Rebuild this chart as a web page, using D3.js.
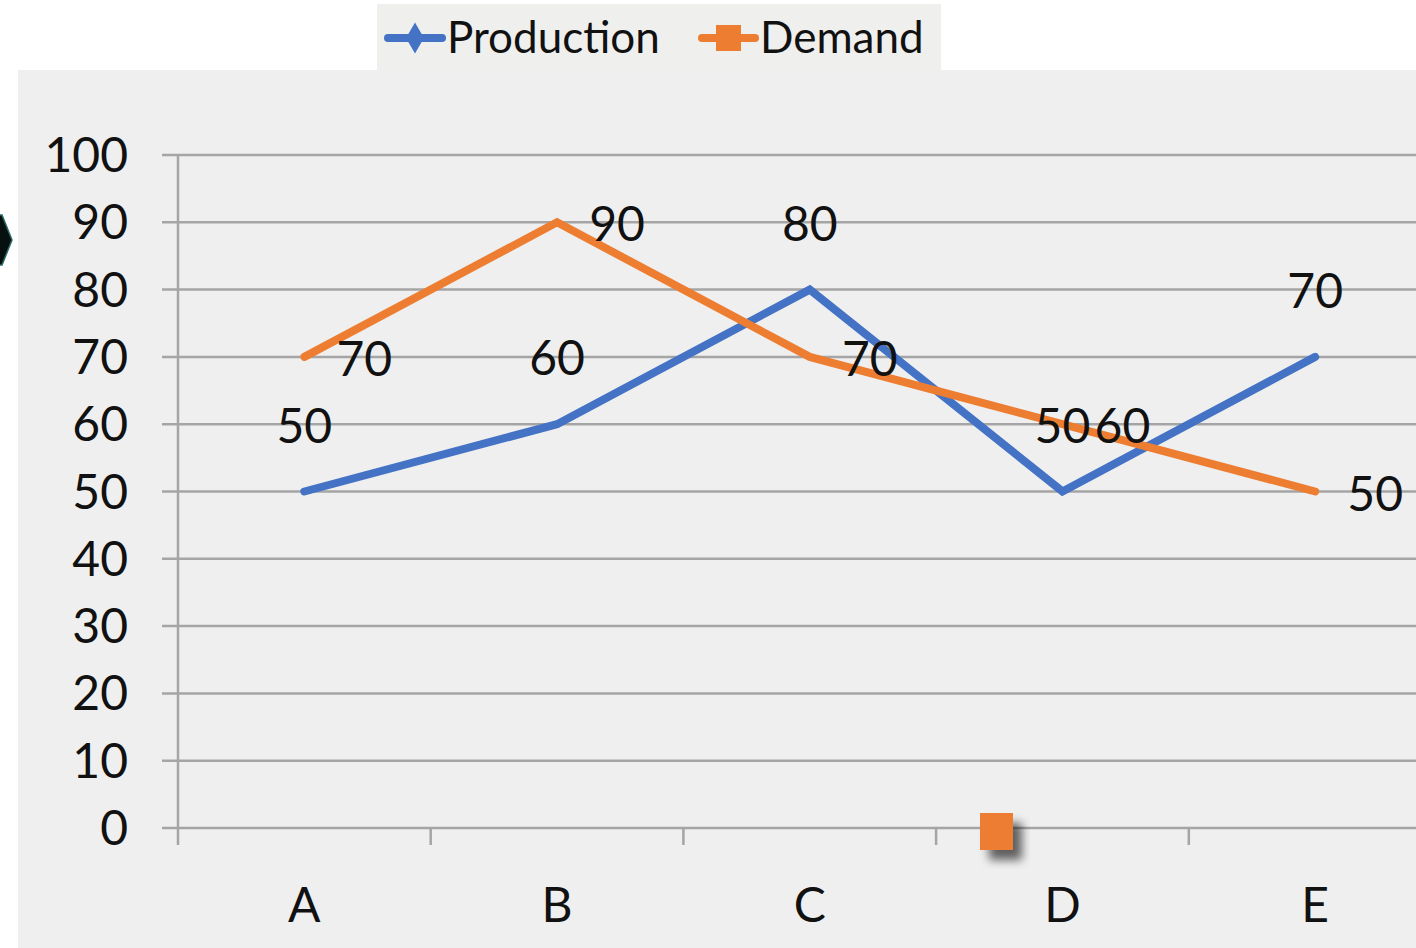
<!DOCTYPE html>
<html>
<head>
<meta charset="utf-8">
<script src="https://cdn.jsdelivr.net/npm/d3@7"></script>
<style>
  html, body { margin: 0; padding: 0; background: #ffffff; }
  svg text { font-family: Lato, "Open Sans", sans-serif; fill: #111; }
</style>
</head>
<body>
<div id="chart"></div>
<script>
// Chart data
const categories = ["A", "B", "C", "D", "E"];
const production = [50, 60, 80, 50, 70];
const demand = [70, 90, 70, 60, 50];
const yTicks = [0, 10, 20, 30, 40, 50, 60, 70, 80, 90, 100];

const W = 1416, H = 948;
const blue = "#4472c4", orange = "#ed7d31", grid = "#a5a5a5";

const svg = d3.select("#chart")
    .append("svg")
        .attr("width", W)
        .attr("height", H)
;

// drop shadow for the stray marker
const defs = svg.append("defs");
const f = defs.append("filter").attr("id", "shadow")
    .attr("x", "-50%").attr("y", "-50%").attr("width", "200%").attr("height", "200%");
f.append("feDropShadow")
    .attr("dx", 9).attr("dy", 10).attr("stdDeviation", 5)
    .attr("flood-color", "#000").attr("flood-opacity", 0.6);

// Background panels
svg.append("rect")
    .attr("x", 18).attr("y", 70)
    .attr("width", W - 18).attr("height", H - 70)
    .attr("fill", "#efefef");
svg.append("rect")
    .attr("x", 377).attr("y", 4)
    .attr("width", 564).attr("height", 66)
    .attr("fill", "#efefee");

// Scales
const x = d3.scaleBand()
    .domain(categories)
    .range([178, 1441.5]);
const y = d3.scaleLinear()
    .domain([0, 100])
    .range([828, 155]);

// Gridlines
svg.append("g")
    .attr("class", "gridlines")
    .selectAll("line")
        .data(yTicks)
        .join("line")
            .attr("x1", 162)
            .attr("x2", W)
            .attr("y1", d => y(d))
            .attr("y2", d => y(d))
            .attr("stroke", grid)
            .attr("stroke-width", 2.5)
;

// Y axis line
svg.append("line")
    .attr("x1", 178).attr("x2", 178)
    .attr("y1", y(100)).attr("y2", y(0) + 17)
    .attr("stroke", grid).attr("stroke-width", 2.5);

// X ticks at band boundaries
svg.append("g")
    .selectAll("line")
        .data(categories.slice(1))
        .join("line")
            .attr("x1", d => x(d))
            .attr("x2", d => x(d))
            .attr("y1", y(0))
            .attr("y2", y(0) + 17)
            .attr("stroke", grid)
            .attr("stroke-width", 2.5)
;

// Y tick labels
svg.append("g")
    .selectAll("text")
        .data(yTicks)
        .join("text")
            .attr("x", 128)
            .attr("y", d => y(d) + 17)
            .attr("text-anchor", "end")
            .style("font-size", "48px")
            .text(d => d)
;

// X tick labels
svg.append("g")
    .selectAll("text")
        .data(categories)
        .join("text")
            .attr("x", d => x(d) + x.bandwidth() / 2)
            .attr("y", 922)
            .attr("text-anchor", "middle")
            .style("font-size", "48px")
            .text(d => d)
;

// Lines
const line = d3.line()
    .x((d, i) => x(categories[i]) + x.bandwidth() / 2)
    .y(d => y(d))
;
svg.append("path")
    .attr("d", line(production))
    .attr("fill", "none")
    .attr("stroke", blue)
    .attr("stroke-width", 8)
    .attr("stroke-linecap", "round")
    .attr("stroke-linejoin", "miter");
svg.append("path")
    .attr("d", line(demand))
    .attr("fill", "none")
    .attr("stroke", orange)
    .attr("stroke-width", 8)
    .attr("stroke-linecap", "round")
    .attr("stroke-linejoin", "miter");

// Data labels
svg.append("g")
    .selectAll("text")
        .data(production)
        .join("text")
            .attr("x", (d, i) => x(categories[i]) + x.bandwidth() / 2)
            .attr("y", d => y(d) - 49)
            .attr("text-anchor", "middle")
            .style("font-size", "48px")
            .text(d => d)
;
svg.append("g")
    .selectAll("text")
        .data(demand)
        .join("text")
            .attr("x", (d, i) => x(categories[i]) + x.bandwidth() / 2 + 60)
            .attr("y", d => y(d) + 19)
            .attr("text-anchor", "middle")
            .style("font-size", "48px")
            .text(d => d)
;

// Legend
const lg = svg.append("g").attr("id", "legend");
lg.append("line")
    .attr("x1", 388).attr("x2", 442).attr("y1", 38).attr("y2", 38)
    .attr("stroke", blue).attr("stroke-width", 8).attr("stroke-linecap", "round");
lg.append("path")
    .attr("d", d3.symbol(d3.symbolDiamond, 280)())
    .attr("transform", "translate(415,38)")
    .attr("fill", blue);
lg.append("text")
    .attr("x", 447).attr("y", 53)
    .style("font-size", "44px")
    .text("Production");
lg.append("line")
    .attr("x1", 702).attr("x2", 755).attr("y1", 38).attr("y2", 38)
    .attr("stroke", orange).attr("stroke-width", 8).attr("stroke-linecap", "round");
lg.append("rect")
    .attr("x", 716).attr("y", 25).attr("width", 25).attr("height", 26)
    .attr("fill", orange);
lg.append("text")
    .attr("x", 760).attr("y", 53)
    .style("font-size", "44px")
    .text("Demand");

// Stray orange marker near D
svg.append("rect")
    .attr("x", 980).attr("y", 813)
    .attr("width", 33).attr("height", 37)
    .attr("fill", orange)
    .attr("filter", "url(#shadow)");

// Cut-off dark shape at left edge
svg.append("path")
    .attr("d", "M-20,215 L2,215 L12,240 L2,265 L-20,265 Z")
    .attr("fill", "#06100f")
    .attr("stroke", "#2a6a68")
    .attr("stroke-width", 1.5);
</script>
</body>
</html>
